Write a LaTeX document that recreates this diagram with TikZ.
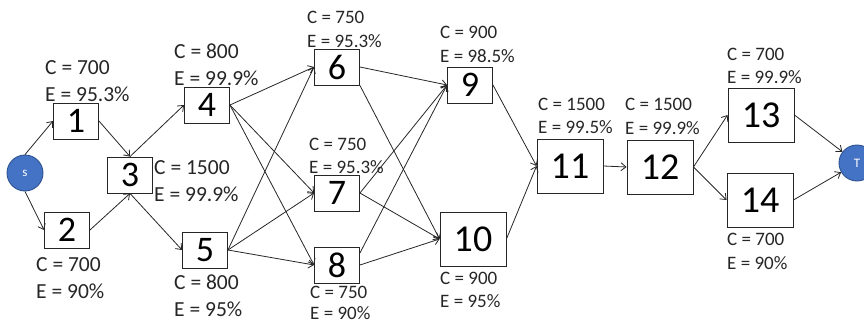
\documentclass[tikz,border=0pt]{standalone}
\usepackage{fontspec}
\setmainfont{Carlito}
\usetikzlibrary{arrows.meta}
\definecolor{cfill}{HTML}{4472C4}
\definecolor{cline}{HTML}{2F528F}
\definecolor{ink}{HTML}{262626}
\begin{document}
\begin{tikzpicture}[x=1pt,y=-1pt,
  box/.style={draw=ink, fill=white, line width=0.9pt, minimum width=45pt, minimum height=36pt, inner sep=0pt, text=black, font=\fontsize{36}{36}\selectfont},
  wbox/.style={box, minimum width=66pt, minimum height=54pt, font=\fontsize{38}{38}\selectfont},
  term/.style={circle, draw=cline, fill=cfill, line width=0.9pt, minimum size=36pt, inner sep=0pt, text=white, font=\fontsize{13}{13}\selectfont},
  big/.style={inner sep=0pt, anchor=west, align=left, text=ink, font=\fontsize{21.5}{27}\selectfont},
  small/.style={inner sep=0pt, anchor=west, align=left, text=ink, font=\fontsize{19}{23.5}\selectfont},
  edge/.style={draw=ink, line width=0.8pt, -{Straight Barb[length=5pt,width=8pt]}}]
\useasboundingbox (0,0) rectangle (864,324);
% nodes
\node[term] (s) at (25,173) {s};
\node[term] (T) at (857,163) {T};
\node[box] (n1) at (76,121) {1};
\node[box] (n2) at (67,230) {2};
\node[box] (n3) at (130,175) {3};
\node[box] (n4) at (207,105) {4};
\node[box] (n5) at (205,250) {5};
\node[box] (n6) at (337,67) {6};
\node[box] (n7) at (337,193) {7};
\node[box] (n8) at (337,265) {8};
\node[box] (n9) at (470,85) {9};
\node[wbox] (n10) at (473,239) {10};
\node[wbox] (n11) at (570,166) {11};
\node[wbox] (n12) at (660,167) {12};
\node[wbox] (n13) at (761,115) {13};
\node[wbox] (n14) at (760,200) {14};
% edges
\draw[edge] (s.north) -- (n1.west);
\draw[edge] (s.south) -- (n2.west);
\draw[edge] (n1.east) -- (n3.north);
\draw[edge] (n2.east) -- (n3.south);
\draw[edge] (n3.north) -- (n4.west);
\draw[edge] (n3.south) -- (n5.west);
\draw[edge] (n4.east) -- (n6.west);
\draw[edge] (n4.east) -- (n7.west);
\draw[edge] (n4.east) -- (n8.west);
\draw[edge] (n5.east) -- (n6.west);
\draw[edge] (n5.east) -- (n7.west);
\draw[edge] (n5.east) -- (n8.west);
\draw[edge] (n6.east) -- (n9.west);
\draw[edge] (n6.south east) -- (n10.west);
\draw[edge] (n7.east) -- (n9.west);
\draw[edge] (n7.east) -- (n10.west);
\draw[edge] ([yshift=12pt]n8.east) -- (n9.west);
\draw[edge] (n8.east) -- (n10.west);
\draw[edge] (n9.east) -- (n11.west);
\draw[edge] (n10.east) -- (n11.west);
\draw[edge] (n11.east) -- (n12.west);
\draw[edge] (n12.east) -- (n13.west);
\draw[edge] (n12.east) -- (n14.west);
\draw[edge] (n13.east) -- (T);
\draw[edge] (n14.east) -- (T);
% labels
\node[big] (l1) at (45,81) {C = 700\\E = 95.3\%};
\node[big] (l2) at (36,278) {C = 700\\E = 90\%};
\node[big] (l3) at (154,181.5) {C = 1500\\E = 99.9\%};
\node[big] (l4) at (174,64.5) {C = 800\\E = 99.9\%};
\node[big] (l5) at (174,296) {C = 800\\E = 95\%};
\node[small] (l6) at (307,29.5) {C = 750\\E = 95.3\%};
\node[small] (l7) at (309,156) {C = 750\\E = 95.3\%};
\node[small, font=\fontsize{19}{21}\selectfont] (l8) at (310,303) {C = 750\\E = 90\%};
\node[small] (l9) at (440,44.5) {C = 900\\E = 98.5\%};
\node[small] (l10) at (440,290) {C = 900\\E = 95\%};
\node[small] (l11) at (538,116) {C = 1500\\E = 99.5\%};
\node[small] (l12) at (625,116.5) {C = 1500\\E = 99.9\%};
\node[small] (l13) at (727,66) {C = 700\\E = 99.9\%};
\node[small] (l14) at (727,251.5) {C = 700\\E = 90\%};
\end{tikzpicture}
\end{document}
